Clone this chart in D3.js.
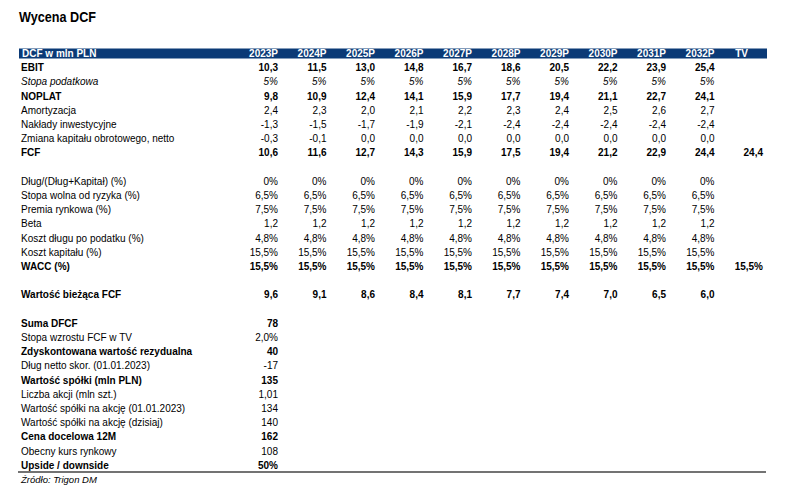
<!DOCTYPE html>
<html><head><meta charset="utf-8">
<script src="https://cdn.jsdelivr.net/npm/d3@7"></script>
<style>
html,body{margin:0;padding:0;background:#fff;}
svg{display:block;font-family:"Liberation Sans",Arial,sans-serif;}
</style></head>
<body>
<svg id="c" width="802" height="488"></svg>
<script>
// ---- data ----
const title = "Wycena DCF";
const headerLabel = "DCF w mln PLN";
const columns = ["2023P","2024P","2025P","2026P","2027P","2028P","2029P","2030P","2031P","2032P","TV"];

const ebit      = [10.3, 11.5, 13.0, 14.8, 16.7, 18.6, 20.5, 22.2, 23.9, 25.4];
const taxRate   = [5, 5, 5, 5, 5, 5, 5, 5, 5, 5];
const noplat    = [9.8, 10.9, 12.4, 14.1, 15.9, 17.7, 19.4, 21.1, 22.7, 24.1];
const amort     = [2.4, 2.3, 2.0, 2.1, 2.2, 2.3, 2.4, 2.5, 2.6, 2.7];
const capex     = [-1.3, -1.5, -1.7, -1.9, -2.1, -2.4, -2.4, -2.4, -2.4, -2.4];
const wcChange  = [-0.3, -0.1, 0.0, 0.0, 0.0, 0.0, 0.0, 0.0, 0.0, 0.0];
const fcf       = [10.6, 11.6, 12.7, 14.3, 15.9, 17.5, 19.4, 21.2, 22.9, 24.4, 24.4];

const debtShare = [0, 0, 0, 0, 0, 0, 0, 0, 0, 0];
const riskFree  = [6.5, 6.5, 6.5, 6.5, 6.5, 6.5, 6.5, 6.5, 6.5, 6.5];
const premium   = [7.5, 7.5, 7.5, 7.5, 7.5, 7.5, 7.5, 7.5, 7.5, 7.5];
const beta      = [1.2, 1.2, 1.2, 1.2, 1.2, 1.2, 1.2, 1.2, 1.2, 1.2];
const costDebt  = [4.8, 4.8, 4.8, 4.8, 4.8, 4.8, 4.8, 4.8, 4.8, 4.8];
const costEquity= [15.5, 15.5, 15.5, 15.5, 15.5, 15.5, 15.5, 15.5, 15.5, 15.5];
const wacc      = [15.5, 15.5, 15.5, 15.5, 15.5, 15.5, 15.5, 15.5, 15.5, 15.5, 15.5];
const pvFcf     = [9.6, 9.1, 8.6, 8.4, 8.1, 7.7, 7.4, 7.0, 6.5, 6.0];

const summaryLabels = [
  "Suma DFCF",
  "Stopa wzrostu FCF w TV",
  "Zdyskontowana wartość rezydualna",
  "Dług netto skor. (01.01.2023)",
  "Wartość spółki (mln PLN)",
  "Liczba akcji (mln szt.)",
  "Wartość spółki na akcję (01.01.2023)",
  "Wartość spółki na akcję (dzisiaj)",
  "Cena docelowa 12M",
  "Obecny kurs rynkowy",
  "Upside / downside"
];
const summaryValues = ["78", "2,0%", "40", "-17", "135", "1,01", "134", "140", "162", "108", "50%"];
const source = "Źródło: Trigon DM";

// ---- formatting ----
const loc = d3.formatLocale({decimal: ",", thousands: " ", grouping: [3], currency: ["", ""], minus: "-"});
const f1 = loc.format(".1f");
const p0 = v => loc.format(".0f")(v) + "%";
const p1 = v => loc.format(".1f")(v) + "%";

// ---- table rows (slot = row index) ----
const rows = [
  {slot: 0,  label: "EBIT", vals: ebit, fmt: f1, w: "bold"},
  {slot: 1,  label: "Stopa podatkowa", vals: taxRate, fmt: p0, it: true},
  {slot: 2,  label: "NOPLAT", vals: noplat, fmt: f1, w: "bold"},
  {slot: 3,  label: "Amortyzacja", vals: amort, fmt: f1},
  {slot: 4,  label: "Nakłady inwestycyjne", vals: capex, fmt: f1},
  {slot: 5,  label: "Zmiana kapitału obrotowego, netto", vals: wcChange, fmt: f1},
  {slot: 6,  label: "FCF", vals: fcf, fmt: f1, w: "bold"},
  {slot: 8,  label: "Dług/(Dług+Kapitał) (%)", vals: debtShare, fmt: p0},
  {slot: 9,  label: "Stopa wolna od ryzyka (%)", vals: riskFree, fmt: p1},
  {slot: 10, label: "Premia rynkowa (%)", vals: premium, fmt: p1},
  {slot: 11, label: "Beta", vals: beta, fmt: f1},
  {slot: 12, label: "Koszt długu po podatku (%)", vals: costDebt, fmt: p1},
  {slot: 13, label: "Koszt kapitału (%)", vals: costEquity, fmt: p1},
  {slot: 14, label: "WACC (%)", vals: wacc, fmt: p1, w: "bold"},
  {slot: 16, label: "Wartość bieżąca FCF", vals: pvFcf, fmt: f1, w: "bold"}
];
const summaryBold = [true, false, true, false, true, false, false, false, true, false, true];
summaryLabels.forEach((l, i) => rows.push({slot: 18 + i, label: l, vals: [summaryValues[i]], fmt: v => v, w: summaryBold[i] ? "bold" : "normal"}));

// ---- scales ----
const svg = d3.select("#c");
const x = d3.scalePoint().domain(columns).range([278, 763]);
const y = d3.scaleLinear().domain([-1, 29]).range([53.5, 479.5]);
const left = 21;

svg.append("text").attr("x", 19).attr("y", 17).attr("dy", "0.35em")
  .attr("font-size", 14.5).attr("font-weight", "bold").attr("fill", "#000")
  .attr("textLength", 77).attr("lengthAdjust", "spacingAndGlyphs").text(title);

// header bar
svg.append("rect").attr("x", 19).attr("y", y(-1) - 5).attr("width", 767 - 19).attr("height", 10)
  .attr("fill", "#0b3a76");
const hdr = svg.append("g").attr("font-size", 10).attr("font-weight", "bold").attr("fill", "#fff");
hdr.append("text").attr("x", 22).attr("y", y(-1)).attr("dy", "0.35em").text(headerLabel);
hdr.selectAll("text.col").data(columns).join("text").attr("class", "col")
  .attr("x", d => d === "TV" ? x(d) - 15 : x(d))
  .attr("y", y(-1)).attr("dy", "0.35em")
  .attr("text-anchor", "end")
  .text(d => d);

// body rows
const g = svg.append("g").attr("font-size", 10).attr("fill", "#000");
const rg = g.selectAll("g.row").data(rows).join("g").attr("class", "row")
  .attr("font-weight", d => d.w || "normal")
  .attr("font-style", d => d.it ? "italic" : "normal");
rg.append("text").attr("x", left).attr("y", d => y(d.slot)).attr("dy", "0.35em").text(d => d.label);
rg.selectAll("text.v").data(d => d.vals.map((v, i) => ({v, col: columns[i], fmt: d.fmt, slot: d.slot})))
  .join("text").attr("class", "v")
  .attr("x", d => x(d.col)).attr("y", d => y(d.slot)).attr("dy", "0.35em")
  .attr("text-anchor", "end").text(d => d.fmt(d.v));

// bottom rule & source
svg.append("line").attr("x1", 18).attr("x2", 766).attr("y1", 472).attr("y2", 472)
  .attr("stroke", "#444").attr("stroke-width", 1.5);
svg.append("text").attr("x", left).attr("y", y(29)).attr("dy", "0.35em")
  .attr("font-size", 9.5).attr("font-style", "italic").attr("fill", "#000").text(source);
</script>
</body></html>
